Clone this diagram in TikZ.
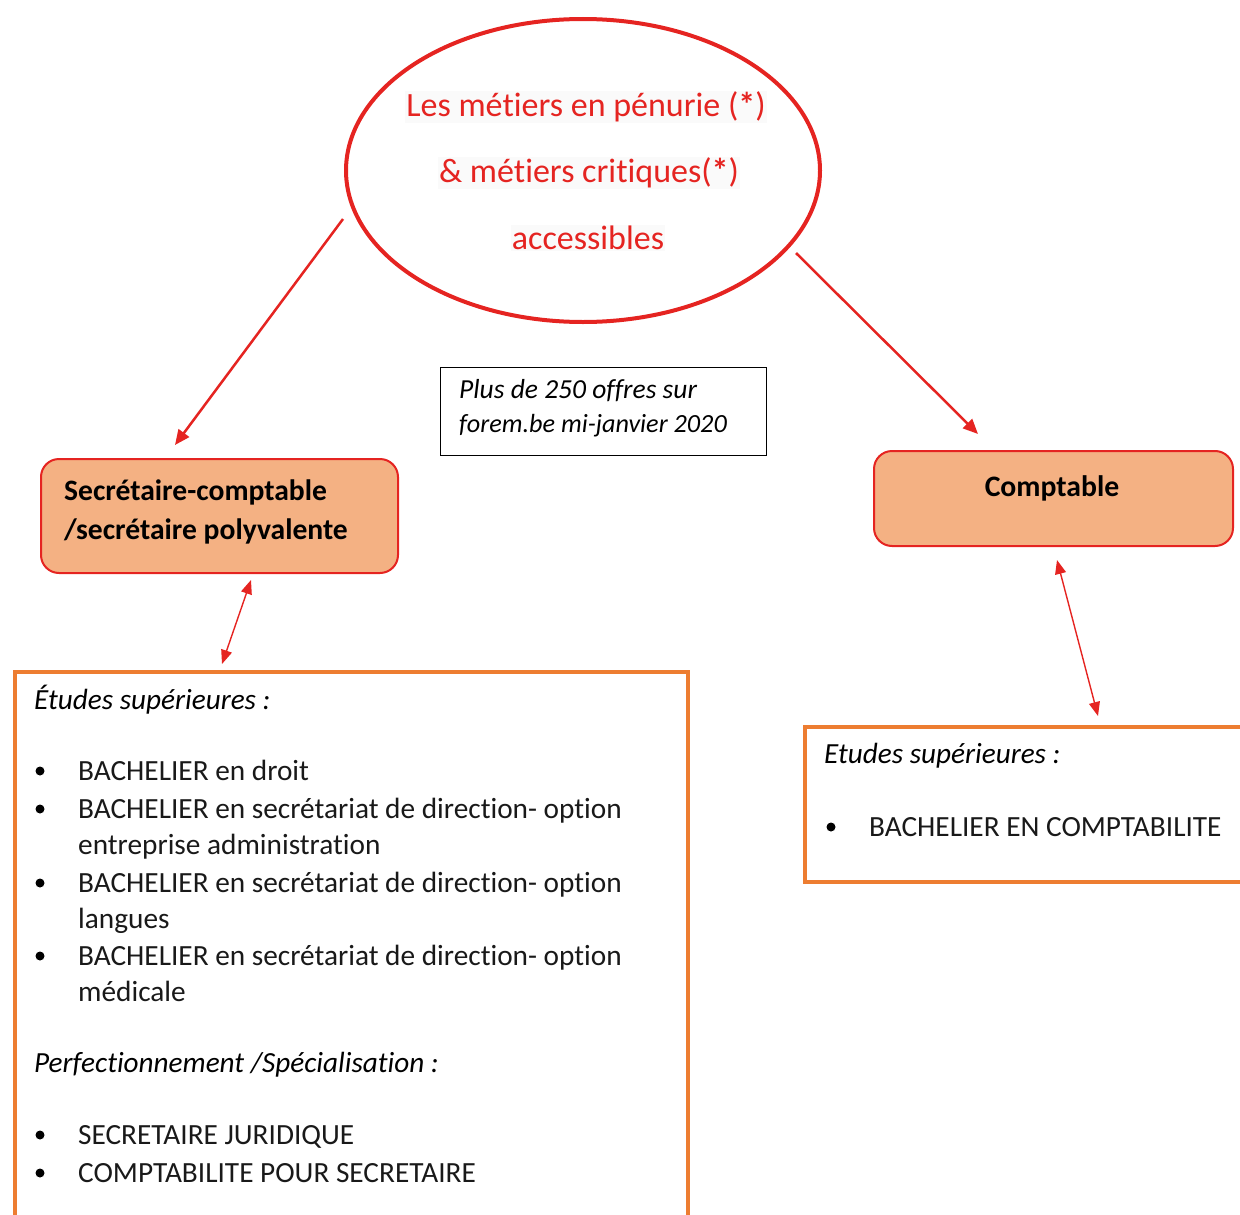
\documentclass[tikz,border=0pt]{standalone}
\usepackage{fontspec}
\setmainfont{Carlito}[Ligatures={NoCommon}]
\usetikzlibrary{shapes.geometric,arrows.meta}
\definecolor{mred}{HTML}{E52421}
\definecolor{mfill}{HTML}{F4B183}
\definecolor{morange}{HTML}{ED7D31}
\tikzset{
  redarrow/.style={draw=mred, line width=2.5pt, -{Triangle[length=15pt,width=13pt]}, mred},
  dblarrow/.style={draw=mred, line width=1.4pt, {Triangle[length=14pt,width=11pt]}-{Triangle[length=14pt,width=11pt]}, mred},
  jobbox/.style={draw=mred, fill=mfill, line width=2pt, rounded corners=18pt, anchor=north west},
  studybox/.style={draw=morange, line width=4pt, anchor=north west},
  eltext/.style={text=mred, font=\fontsize{34}{40}\selectfont, fill=black!2, inner sep=1pt},
  itemtext/.style={anchor=base west, inner sep=0pt, font=\fontsize{29.3}{34}\selectfont, text=black!90},
  headtext/.style={anchor=base west, inner sep=0pt, font=\fontsize{29.2}{34}\selectfont\itshape},
  boldtext/.style={anchor=base west, inner sep=0pt, font=\fontsize{29.6}{34}\selectfont\bfseries},
  bul/.style={circle, fill=black, inner sep=0pt, minimum size=9pt}
}
\begin{document}
\begin{tikzpicture}[x=1pt,y=-1pt]
\useasboundingbox (0,0) rectangle (1240,1215);
\clip (0,0) rectangle (1240,1215);
% central ellipse
\node[ellipse, draw=mred, line width=4pt, minimum width=474pt, minimum height=303pt] (ell) at (583,170.5) {};
\node[eltext] (t1) at (586,107) {Les métiers en pénurie (\textbf{*})};
\node[eltext] (t2) at (589,173) {\& métiers critiques(\textbf{*})};
\node[eltext] (t3) at (588,238) {accessibles};
% note
\node[draw=black, line width=0.8pt, anchor=north west, minimum width=326pt, minimum height=88pt] (note) at (440,367) {};
\node[anchor=base west, inner sep=0pt, font=\fontsize{27.5}{32}\selectfont\itshape] (n1) at (459,398) {Plus de 250 offres sur};
\node[anchor=base west, inner sep=0pt, font=\fontsize{26.2}{31}\selectfont\itshape] (n2) at (459,432) {forem.be mi-janvier 2020};
% job boxes
\node[jobbox, minimum width=357pt, minimum height=114pt] (sec) at (40,458) {};
\node[boldtext] (s1) at (64,500) {Secrétaire-comptable};
\node[boldtext] (s2) at (64,539) {/secrétaire polyvalente};
\node[jobbox, minimum width=359pt, minimum height=95pt] (comp) at (873,450) {};
\node[anchor=base, inner sep=0pt, font=\fontsize{29.7}{34}\selectfont\bfseries] (c1) at (1052,496) {Comptable};
% arrows from ellipse
\coordinate (e1) at (343,219);
\coordinate (e2) at (796,253);
\coordinate (secin) at (175,445);
\coordinate (compin) at (978,434);
\draw[redarrow] (e1) -- (secin);
\draw[redarrow] (e2) -- (compin);
% study boxes
\node[studybox, minimum width=673pt, minimum height=600pt] (lbox) at (13,670) {};
\node[studybox, minimum width=500pt, minimum height=155pt] (rbox) at (803,725) {};
% double arrows
\coordinate (d1a) at (251,580);
\coordinate (d1b) at (222,664);
\coordinate (d2a) at (1057,560);
\coordinate (d2b) at (1098,716);
\draw[dblarrow] (d1a) -- (d1b);
\draw[dblarrow] (d2a) -- (d2b);
% left box content
\node[headtext] (h1) at (34,709) {Études supérieures :};
\node[bul] (b1) at (40,771) {};
\node[itemtext] (i1) at (78,780) {BACHELIER en droit};
\node[bul] (b2) at (40,809) {};
\node[itemtext] (i2) at (78,818) {BACHELIER en secrétariat de direction- option};
\node[itemtext] (i2b) at (78,854) {entreprise administration};
\node[bul] (b3) at (40,883) {};
\node[itemtext] (i3) at (78,892) {BACHELIER en secrétariat de direction- option};
\node[itemtext] (i3b) at (78,928) {langues};
\node[bul] (b4) at (40,956) {};
\node[itemtext] (i4) at (78,965) {BACHELIER en secrétariat de direction- option};
\node[itemtext] (i4b) at (78,1001) {médicale};
\node[headtext] (h2) at (34,1072) {Perfectionnement /Spécialisation :};
\node[bul] (b5) at (40,1135) {};
\node[itemtext] (i5) at (78,1144) {SECRETAIRE JURIDIQUE};
\node[bul] (b6) at (40,1173) {};
\node[itemtext] (i6) at (78,1182) {COMPTABILITE POUR SECRETAIRE};
% right box content
\node[headtext] (h3) at (824,763) {Etudes supérieures :};
\node[bul] (b7) at (831,827) {};
\node[itemtext] (i7) at (869,836) {BACHELIER EN COMPTABILITE};
\end{tikzpicture}
\end{document}
